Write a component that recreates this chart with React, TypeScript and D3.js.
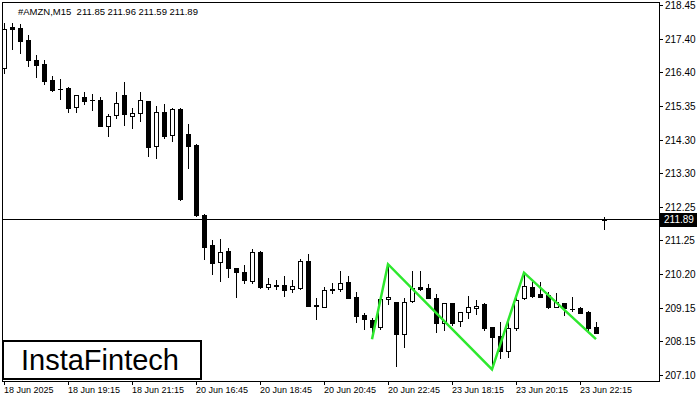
import React from "react";
import * as d3 from "d3";

const opens = [216.53,217.78,217.74,217.38,216.76,216.64,216.15,215.87,215.89,215.31,215.64,215.55,215.54,214.75,215.08,215.69,215.05,215.13,215.50,214.13,215.16,214.45,215.25,214.49,214.16,212.01,211.09,210.58,210.90,210.37,210.27,209.99,210.88,209.79,209.85,209.86,209.75,209.76,210.60,209.24,209.20,209.73,209.75,209.94,209.48,208.94,208.79,208.58,209.42,209.33,208.35,209.38,209.81,209.76,209.45,208.69,209.30,208.76,209.02,209.16,209.28,208.58,208.30,207.85,208.53,209.47,209.81,209.58,209.55,209.20,209.30,209.12,209.15,209.02,208.56,211.85];
const highs = [217.89,217.89,217.87,217.53,216.92,216.76,216.27,216.18,215.92,215.70,215.79,215.71,215.63,215.10,215.79,216.10,215.28,215.77,215.52,215.35,215.41,215.30,215.28,214.80,214.18,212.03,211.24,211.26,210.99,210.37,210.47,210.97,210.90,210.08,210.01,210.14,210.01,210.66,210.81,209.45,209.81,209.91,210.29,210.14,209.66,208.99,208.84,209.45,210.50,209.33,209.47,210.29,210.29,209.88,209.57,209.30,209.30,209.04,209.52,209.40,209.30,208.58,208.73,208.73,209.61,210.24,209.96,209.96,209.66,209.61,209.31,209.48,209.20,209.06,208.72,211.96];
const lows = [216.37,217.11,216.97,216.59,216.25,216.03,215.82,215.58,215.17,215.17,215.41,215.23,214.73,214.44,214.99,214.77,214.69,214.90,213.83,213.77,214.38,214.28,212.47,213.46,211.99,210.66,210.19,209.99,210.12,209.50,209.93,209.93,209.78,209.74,209.73,209.53,209.66,209.73,209.23,208.81,209.20,209.61,209.69,209.47,208.74,208.51,208.33,208.51,209.27,207.38,207.97,209.35,209.71,209.45,208.43,208.48,208.63,208.60,208.86,208.96,208.48,207.28,207.61,207.66,208.48,209.43,209.50,209.48,209.15,209.18,208.94,209.07,209.00,208.43,208.40,211.59];
const closes = [217.70,217.72,217.35,216.76,216.62,216.13,215.84,215.86,215.30,215.68,215.52,215.54,214.75,215.05,215.43,215.10,215.13,215.54,214.10,215.18,214.44,215.25,212.50,214.13,212.01,211.04,210.55,210.88,210.39,210.27,210.01,210.86,209.81,209.89,209.84,209.71,209.83,210.60,209.23,209.23,209.71,209.72,209.91,209.47,208.92,208.81,208.58,209.43,209.50,208.35,209.35,209.76,209.74,209.45,208.70,209.30,208.69,209.04,209.18,209.23,208.55,208.26,207.85,208.53,209.40,209.83,209.53,209.50,209.20,209.35,209.15,209.11,209.01,208.53,208.40,211.89];

const yTicks = [218.45,217.40,216.40,215.35,214.30,213.30,212.25,211.25,210.20,209.15,208.15,207.10];
const xTickIndex = [0,8,16,24,32,40,48,56,64,72];
const xTickLabels = ["18 Jun 2025","18 Jun 19:15","18 Jun 21:15","20 Jun 16:45","20 Jun 18:45","20 Jun 20:45","20 Jun 22:45","23 Jun 18:15","23 Jun 20:15","23 Jun 22:15"];

const patternIndex = [46,48,61,65,74];
const patternPrice = [208.20,210.50,207.27,210.24,208.20];

const currentPrice = 211.89;
const title = "#AMZN,M15  211.85 211.96 211.59 211.89";

export default function App() {
  const W = 700, H = 400;
  const left = 2, right = 659, top = 2, bottom = 381;
  const x = d3.scaleLinear().domain([0, 75]).range([4, 604]);
  const y = d3.scaleLinear().domain([207.10, 218.45]).range([375, 5]);
  const font = "'Liberation Sans', Arial, sans-serif";
  const line = d3.line<number>().x((_, i) => x(patternIndex[i])).y((d) => y(d));

  return (
    <svg width={W} height={H} style={{ position: "absolute", left: 0, top: 0, background: "#fff" }}>
      <rect x={0} y={0} width={W} height={H} fill="#fff" />
      <defs>
        <clipPath id="plot">
          <rect x={left + 0.5} y={top + 0.5} width={right - left} height={bottom - top} />
        </clipPath>
      </defs>
      <g clipPath="url(#plot)" shapeRendering="crispEdges">
        <line x1={left} x2={right} y1={Math.round(y(currentPrice)) + 0.5} y2={Math.round(y(currentPrice)) + 0.5} stroke="#000" />
        {opens.map((o, i) => {
          const c = closes[i];
          const cx = Math.round(x(i)) + 0.5;
          const bull = c >= o;
          const yt = Math.round(y(Math.max(o, c))) + 0.5;
          const yb = Math.round(y(Math.min(o, c))) + 0.5;
          return (
            <g key={i}>
              <line x1={cx} x2={cx} y1={Math.round(y(highs[i]))} y2={Math.round(y(lows[i])) + 1} stroke="#000" />
              {yb - yt < 1 ? (
                <line x1={cx - 2.5} x2={cx + 2.5} y1={yt} y2={yt} stroke="#000" />
              ) : (
                <rect x={cx - 2} y={yt} width={4} height={yb - yt} fill={bull ? "#fff" : "#000"} stroke="#000" />
              )}
            </g>
          );
        })}
      </g>
      <path d={line(patternPrice) || ""} fill="none" stroke="#2ee82e" strokeWidth={2.5} clipPath="url(#plot)" />
      <rect x={left + 0.5} y={top + 0.5} width={right - left} height={bottom - top} fill="none" stroke="#000" shapeRendering="crispEdges" />
      <text x={18} y={15} fontFamily={font} fontSize={9.5} fill="#000" style={{ whiteSpace: "pre" }}>{title}</text>
      <g shapeRendering="crispEdges">
        {yTicks.map((t, i) => (
          <g key={i}>
            <line x1={right} x2={right + 4} y1={Math.round(y(t)) + 0.5} y2={Math.round(y(t)) + 0.5} stroke="#000" />
            <text x={665} y={y(t) + 4} fontFamily={font} fontSize={10} fill="#000">{t.toFixed(2)}</text>
          </g>
        ))}
        {xTickIndex.map((k, i) => (
          <g key={i}>
            <line x1={Math.round(x(k)) + 0.5} x2={Math.round(x(k)) + 0.5} y1={bottom} y2={bottom + 4} stroke="#000" />
            <text x={x(k)} y={393} fontFamily={font} fontSize={9} fill="#000">{xTickLabels[i]}</text>
          </g>
        ))}
      </g>
      <rect x={660} y={Math.round(y(currentPrice)) - 6} width={37} height={14} fill="#000" />
      <text x={664} y={y(currentPrice) + 4} fontFamily={font} fontSize={10} fill="#fff">{currentPrice.toFixed(2)}</text>
      <rect x={3} y={341} width={198} height={38} fill="#fff" stroke="#000" strokeWidth={2} />
      <text x={21} y={370} fontFamily={font} fontSize={29} fill="#000">InstaFintech</text>
    </svg>
  );
}
